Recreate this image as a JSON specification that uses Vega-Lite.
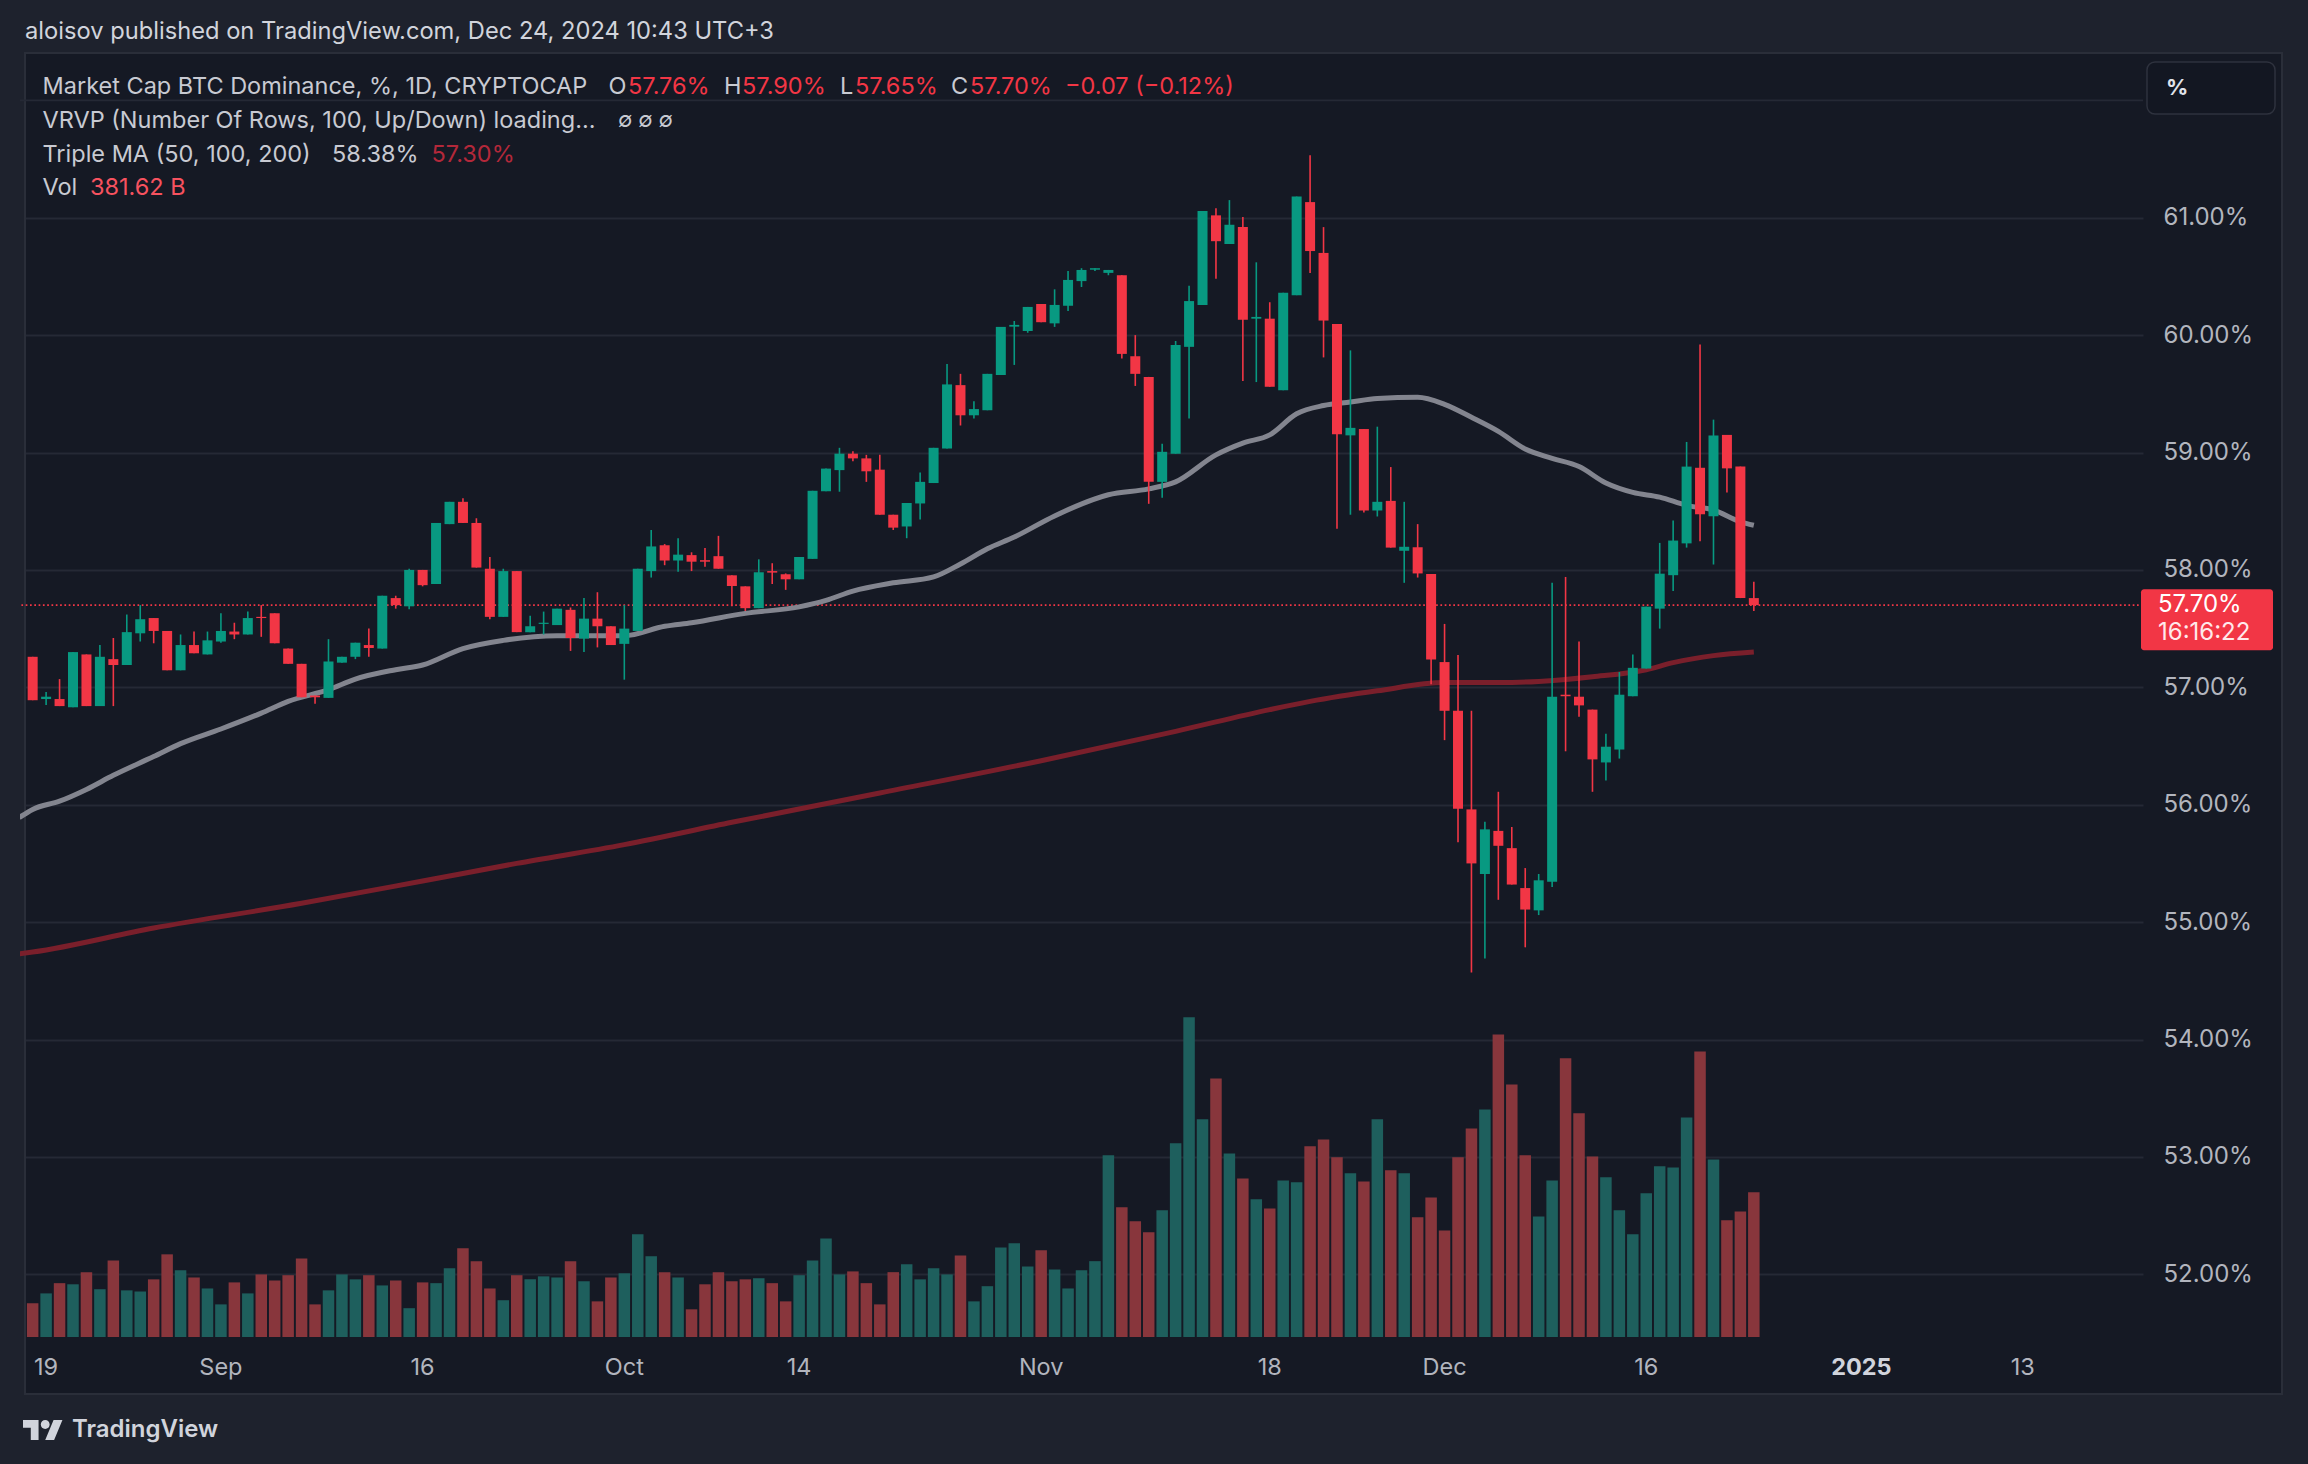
{
  "$schema": "https://vega.github.io/schema/vega-lite/v6.json",
  "width": 2123,
  "height": 1284,
  "autosize": "none",
  "padding": {"left": 20, "top": 53, "right": 165, "bottom": 127},
  "background": "#151924",
  "config": {
    "view": {"stroke": null},
    "font": "Inter",
    "text": {"font": "Inter"}
  },
  "datasets": {
    "candles": [
      {"date":"2024-08-18","open":57.26,"high":57.26,"low":56.89,"close":56.89,"volume":89},
      {"date":"2024-08-19","open":56.9,"high":56.96,"low":56.85,"close":56.92,"volume":115},
      {"date":"2024-08-20","open":56.9,"high":57.07,"low":56.84,"close":56.84,"volume":142},
      {"date":"2024-08-21","open":56.83,"high":57.3,"low":56.83,"close":57.3,"volume":139},
      {"date":"2024-08-22","open":57.28,"high":57.28,"low":56.84,"close":56.84,"volume":171},
      {"date":"2024-08-23","open":56.84,"high":57.36,"low":56.84,"close":57.26,"volume":126},
      {"date":"2024-08-24","open":57.24,"high":57.42,"low":56.84,"close":57.19,"volume":202},
      {"date":"2024-08-25","open":57.19,"high":57.62,"low":57.19,"close":57.47,"volume":123},
      {"date":"2024-08-26","open":57.46,"high":57.7,"low":57.39,"close":57.58,"volume":120},
      {"date":"2024-08-27","open":57.59,"high":57.59,"low":57.375,"close":57.48,"volume":152},
      {"date":"2024-08-28","open":57.48,"high":57.48,"low":57.145,"close":57.145,"volume":218},
      {"date":"2024-08-29","open":57.145,"high":57.45,"low":57.145,"close":57.36,"volume":176},
      {"date":"2024-08-30","open":57.36,"high":57.475,"low":57.29,"close":57.29,"volume":157},
      {"date":"2024-08-31","open":57.28,"high":57.475,"low":57.28,"close":57.4,"volume":128},
      {"date":"2024-09-01","open":57.39,"high":57.63,"low":57.38,"close":57.48,"volume":86},
      {"date":"2024-09-02","open":57.475,"high":57.55,"low":57.41,"close":57.45,"volume":144},
      {"date":"2024-09-03","open":57.45,"high":57.645,"low":57.45,"close":57.59,"volume":115},
      {"date":"2024-09-04","open":57.6,"high":57.7,"low":57.43,"close":57.59,"volume":165},
      {"date":"2024-09-05","open":57.63,"high":57.63,"low":57.375,"close":57.375,"volume":149},
      {"date":"2024-09-06","open":57.33,"high":57.33,"low":57.2,"close":57.2,"volume":163},
      {"date":"2024-09-07","open":57.2,"high":57.2,"low":56.915,"close":56.915,"volume":207},
      {"date":"2024-09-08","open":56.93,"high":56.93,"low":56.86,"close":56.915,"volume":86},
      {"date":"2024-09-09","open":56.91,"high":57.41,"low":56.91,"close":57.22,"volume":123},
      {"date":"2024-09-10","open":57.21,"high":57.26,"low":57.21,"close":57.26,"volume":165},
      {"date":"2024-09-11","open":57.26,"high":57.38,"low":57.24,"close":57.38,"volume":152},
      {"date":"2024-09-12","open":57.36,"high":57.5,"low":57.26,"close":57.335,"volume":163},
      {"date":"2024-09-13","open":57.33,"high":57.78,"low":57.33,"close":57.78,"volume":136},
      {"date":"2024-09-14","open":57.76,"high":57.78,"low":57.67,"close":57.7,"volume":149},
      {"date":"2024-09-15","open":57.69,"high":58.01,"low":57.665,"close":58.0,"volume":76},
      {"date":"2024-09-16","open":58.0,"high":58.0,"low":57.86,"close":57.87,"volume":144},
      {"date":"2024-09-17","open":57.88,"high":58.4,"low":57.88,"close":58.4,"volume":142},
      {"date":"2024-09-18","open":58.39,"high":58.58,"low":58.39,"close":58.58,"volume":181},
      {"date":"2024-09-19","open":58.58,"high":58.61,"low":58.4,"close":58.4,"volume":234},
      {"date":"2024-09-20","open":58.4,"high":58.44,"low":58.02,"close":58.02,"volume":200},
      {"date":"2024-09-21","open":58.01,"high":58.11,"low":57.58,"close":57.6,"volume":128},
      {"date":"2024-09-22","open":57.6,"high":58.01,"low":57.6,"close":57.99,"volume":97},
      {"date":"2024-09-23","open":57.99,"high":57.99,"low":57.47,"close":57.47,"volume":163},
      {"date":"2024-09-24","open":57.47,"high":57.61,"low":57.47,"close":57.52,"volume":152},
      {"date":"2024-09-25","open":57.54,"high":57.645,"low":57.45,"close":57.55,"volume":160},
      {"date":"2024-09-26","open":57.53,"high":57.67,"low":57.53,"close":57.67,"volume":157},
      {"date":"2024-09-27","open":57.66,"high":57.68,"low":57.31,"close":57.42,"volume":200},
      {"date":"2024-09-28","open":57.415,"high":57.76,"low":57.3,"close":57.585,"volume":147},
      {"date":"2024-09-29","open":57.585,"high":57.81,"low":57.34,"close":57.52,"volume":94},
      {"date":"2024-09-30","open":57.52,"high":57.52,"low":57.36,"close":57.36,"volume":157},
      {"date":"2024-10-01","open":57.37,"high":57.7,"low":57.065,"close":57.5,"volume":168},
      {"date":"2024-10-02","open":57.48,"high":58.01,"low":57.48,"close":58.01,"volume":271},
      {"date":"2024-10-03","open":57.99,"high":58.34,"low":57.935,"close":58.2,"volume":213},
      {"date":"2024-10-04","open":58.21,"high":58.22,"low":58.04,"close":58.08,"volume":171},
      {"date":"2024-10-05","open":58.08,"high":58.27,"low":57.985,"close":58.13,"volume":157},
      {"date":"2024-10-06","open":58.126,"high":58.15,"low":57.99,"close":58.07,"volume":73},
      {"date":"2024-10-07","open":58.083,"high":58.186,"low":58.026,"close":58.07,"volume":139},
      {"date":"2024-10-08","open":58.117,"high":58.29,"low":58.01,"close":58.01,"volume":171},
      {"date":"2024-10-09","open":57.954,"high":57.954,"low":57.69,"close":57.863,"volume":147},
      {"date":"2024-10-10","open":57.86,"high":57.86,"low":57.65,"close":57.674,"volume":152},
      {"date":"2024-10-11","open":57.674,"high":58.09,"low":57.674,"close":57.98,"volume":155},
      {"date":"2024-10-12","open":57.99,"high":58.057,"low":57.88,"close":57.977,"volume":142},
      {"date":"2024-10-13","open":57.963,"high":57.97,"low":57.83,"close":57.92,"volume":94},
      {"date":"2024-10-14","open":57.92,"high":58.11,"low":57.92,"close":58.11,"volume":163},
      {"date":"2024-10-15","open":58.094,"high":58.674,"low":58.094,"close":58.674,"volume":202},
      {"date":"2024-10-16","open":58.67,"high":58.863,"low":58.67,"close":58.863,"volume":260},
      {"date":"2024-10-17","open":58.85,"high":59.04,"low":58.666,"close":58.99,"volume":165},
      {"date":"2024-10-18","open":58.99,"high":59.01,"low":58.926,"close":58.95,"volume":173},
      {"date":"2024-10-19","open":58.95,"high":58.98,"low":58.75,"close":58.84,"volume":142},
      {"date":"2024-10-20","open":58.854,"high":58.98,"low":58.47,"close":58.47,"volume":86},
      {"date":"2024-10-21","open":58.47,"high":58.47,"low":58.34,"close":58.36,"volume":171},
      {"date":"2024-10-22","open":58.37,"high":58.57,"low":58.27,"close":58.57,"volume":192},
      {"date":"2024-10-23","open":58.566,"high":58.83,"low":58.43,"close":58.75,"volume":152},
      {"date":"2024-10-24","open":58.74,"high":59.04,"low":58.74,"close":59.04,"volume":181},
      {"date":"2024-10-25","open":59.034,"high":59.754,"low":59.034,"close":59.58,"volume":165},
      {"date":"2024-10-26","open":59.574,"high":59.67,"low":59.23,"close":59.317,"volume":215},
      {"date":"2024-10-27","open":59.317,"high":59.437,"low":59.29,"close":59.37,"volume":94},
      {"date":"2024-10-28","open":59.36,"high":59.67,"low":59.36,"close":59.67,"volume":134},
      {"date":"2024-10-29","open":59.66,"high":60.07,"low":59.66,"close":60.07,"volume":236},
      {"date":"2024-10-30","open":60.072,"high":60.12,"low":59.746,"close":60.087,"volume":247},
      {"date":"2024-10-31","open":60.035,"high":60.24,"low":60.02,"close":60.24,"volume":186},
      {"date":"2024-11-01","open":60.265,"high":60.265,"low":60.11,"close":60.11,"volume":229},
      {"date":"2024-11-02","open":60.1,"high":60.39,"low":60.07,"close":60.257,"volume":178},
      {"date":"2024-11-03","open":60.25,"high":60.546,"low":60.206,"close":60.47,"volume":128},
      {"date":"2024-11-04","open":60.46,"high":60.57,"low":60.41,"close":60.555,"volume":176},
      {"date":"2024-11-05","open":60.557,"high":60.57,"low":60.546,"close":60.57,"volume":200},
      {"date":"2024-11-06","open":60.53,"high":60.555,"low":60.51,"close":60.555,"volume":479},
      {"date":"2024-11-07","open":60.51,"high":60.51,"low":59.8,"close":59.84,"volume":342},
      {"date":"2024-11-08","open":59.82,"high":60.0,"low":59.567,"close":59.67,"volume":305},
      {"date":"2024-11-09","open":59.644,"high":59.644,"low":58.563,"close":58.75,"volume":276},
      {"date":"2024-11-10","open":58.75,"high":59.074,"low":58.614,"close":59.006,"volume":334},
      {"date":"2024-11-11","open":58.99,"high":59.95,"low":58.99,"close":59.916,"volume":511},
      {"date":"2024-11-12","open":59.9,"high":60.42,"low":59.29,"close":60.29,"volume":843},
      {"date":"2024-11-13","open":60.257,"high":61.057,"low":60.257,"close":61.057,"volume":574},
      {"date":"2024-11-14","open":61.02,"high":61.08,"low":60.48,"close":60.8,"volume":682},
      {"date":"2024-11-15","open":60.776,"high":61.15,"low":60.776,"close":60.94,"volume":484},
      {"date":"2024-11-16","open":60.92,"high":61.006,"low":59.61,"close":60.13,"volume":418},
      {"date":"2024-11-17","open":60.14,"high":60.62,"low":59.6,"close":60.155,"volume":363},
      {"date":"2024-11-18","open":60.14,"high":60.28,"low":59.56,"close":59.56,"volume":339},
      {"date":"2024-11-19","open":59.53,"high":60.36,"low":59.53,"close":60.36,"volume":413},
      {"date":"2024-11-20","open":60.34,"high":61.18,"low":60.34,"close":61.18,"volume":408},
      {"date":"2024-11-21","open":61.133,"high":61.533,"low":60.53,"close":60.716,"volume":503},
      {"date":"2024-11-22","open":60.7,"high":60.92,"low":59.81,"close":60.124,"volume":521},
      {"date":"2024-11-23","open":60.094,"high":60.094,"low":58.35,"close":59.155,"volume":474},
      {"date":"2024-11-24","open":59.146,"high":59.87,"low":58.47,"close":59.21,"volume":432},
      {"date":"2024-11-25","open":59.2,"high":59.2,"low":58.49,"close":58.506,"volume":410},
      {"date":"2024-11-26","open":58.506,"high":59.22,"low":58.455,"close":58.58,"volume":574},
      {"date":"2024-11-27","open":58.588,"high":58.876,"low":58.19,"close":58.19,"volume":440},
      {"date":"2024-11-28","open":58.163,"high":58.58,"low":57.89,"close":58.197,"volume":432},
      {"date":"2024-11-29","open":58.193,"high":58.39,"low":57.935,"close":57.97,"volume":316},
      {"date":"2024-11-30","open":57.966,"high":57.966,"low":57.026,"close":57.236,"volume":368},
      {"date":"2024-12-01","open":57.215,"high":57.54,"low":56.55,"close":56.8,"volume":281},
      {"date":"2024-12-02","open":56.8,"high":57.275,"low":55.68,"close":55.966,"volume":474},
      {"date":"2024-12-03","open":55.96,"high":56.8,"low":54.57,"close":55.5,"volume":550},
      {"date":"2024-12-04","open":55.41,"high":55.854,"low":54.69,"close":55.79,"volume":600},
      {"date":"2024-12-05","open":55.777,"high":56.11,"low":55.19,"close":55.65,"volume":798},
      {"date":"2024-12-06","open":55.63,"high":55.81,"low":55.32,"close":55.32,"volume":666},
      {"date":"2024-12-07","open":55.29,"high":55.46,"low":54.785,"close":55.107,"volume":479},
      {"date":"2024-12-08","open":55.1,"high":55.41,"low":55.06,"close":55.356,"volume":318},
      {"date":"2024-12-09","open":55.343,"high":57.89,"low":55.3,"close":56.92,"volume":413},
      {"date":"2024-12-10","open":56.937,"high":57.94,"low":56.455,"close":56.924,"volume":735},
      {"date":"2024-12-11","open":56.92,"high":57.39,"low":56.75,"close":56.846,"volume":590},
      {"date":"2024-12-12","open":56.81,"high":56.81,"low":56.11,"close":56.386,"volume":476},
      {"date":"2024-12-13","open":56.36,"high":56.605,"low":56.207,"close":56.494,"volume":421},
      {"date":"2024-12-14","open":56.47,"high":57.13,"low":56.393,"close":56.937,"volume":334},
      {"date":"2024-12-15","open":56.924,"high":57.28,"low":56.924,"close":57.166,"volume":271},
      {"date":"2024-12-16","open":57.16,"high":57.687,"low":57.16,"close":57.687,"volume":379},
      {"date":"2024-12-17","open":57.67,"high":58.23,"low":57.5,"close":57.968,"volume":450},
      {"date":"2024-12-18","open":57.955,"high":58.42,"low":57.82,"close":58.25,"volume":447},
      {"date":"2024-12-19","open":58.226,"high":59.09,"low":58.19,"close":58.88,"volume":579},
      {"date":"2024-12-20","open":58.87,"high":59.92,"low":58.245,"close":58.474,"volume":753},
      {"date":"2024-12-21","open":58.457,"high":59.28,"low":58.046,"close":59.145,"volume":468},
      {"date":"2024-12-22","open":59.15,"high":59.15,"low":58.66,"close":58.865,"volume":308},
      {"date":"2024-12-23","open":58.88,"high":58.88,"low":57.76,"close":57.76,"volume":331},
      {"date":"2024-12-24","open":57.76,"high":57.9,"low":57.65,"close":57.7,"volume":381.62}
    ],
    "ma100": [
      {"date":"2024-08-17","v":55.89},
      {"date":"2024-08-18","v":55.96},
      {"date":"2024-08-20","v":56.03},
      {"date":"2024-08-22","v":56.13},
      {"date":"2024-08-24","v":56.25},
      {"date":"2024-08-27","v":56.41},
      {"date":"2024-08-29","v":56.52},
      {"date":"2024-09-01","v":56.645},
      {"date":"2024-09-04","v":56.78},
      {"date":"2024-09-06","v":56.88},
      {"date":"2024-09-09","v":56.98},
      {"date":"2024-09-11","v":57.07},
      {"date":"2024-09-14","v":57.15},
      {"date":"2024-09-16","v":57.19},
      {"date":"2024-09-19","v":57.33},
      {"date":"2024-09-22","v":57.4},
      {"date":"2024-09-26","v":57.44},
      {"date":"2024-10-01","v":57.44},
      {"date":"2024-10-04","v":57.52},
      {"date":"2024-10-06","v":57.55},
      {"date":"2024-10-10","v":57.63},
      {"date":"2024-10-14","v":57.685},
      {"date":"2024-10-16","v":57.74},
      {"date":"2024-10-18","v":57.82},
      {"date":"2024-10-21","v":57.89},
      {"date":"2024-10-24","v":57.94},
      {"date":"2024-10-26","v":58.05},
      {"date":"2024-10-28","v":58.18},
      {"date":"2024-10-30","v":58.28},
      {"date":"2024-11-02","v":58.46},
      {"date":"2024-11-06","v":58.64},
      {"date":"2024-11-09","v":58.69},
      {"date":"2024-11-11","v":58.75},
      {"date":"2024-11-14","v":58.98},
      {"date":"2024-11-16","v":59.08},
      {"date":"2024-11-18","v":59.15},
      {"date":"2024-11-20","v":59.33},
      {"date":"2024-11-22","v":59.4},
      {"date":"2024-11-24","v":59.43},
      {"date":"2024-11-26","v":59.46},
      {"date":"2024-11-29","v":59.47},
      {"date":"2024-12-01","v":59.41},
      {"date":"2024-12-03","v":59.3},
      {"date":"2024-12-05","v":59.18},
      {"date":"2024-12-07","v":59.03},
      {"date":"2024-12-09","v":58.95},
      {"date":"2024-12-11","v":58.88},
      {"date":"2024-12-13","v":58.74},
      {"date":"2024-12-15","v":58.66},
      {"date":"2024-12-17","v":58.62},
      {"date":"2024-12-19","v":58.55},
      {"date":"2024-12-21","v":58.51},
      {"date":"2024-12-23","v":58.41},
      {"date":"2024-12-24","v":58.38}
    ],
    "ma200": [
      {"date":"2024-08-17","v":54.73},
      {"date":"2024-08-18","v":54.745},
      {"date":"2024-08-27","v":54.95},
      {"date":"2024-09-07","v":55.16},
      {"date":"2024-09-16","v":55.35},
      {"date":"2024-09-23","v":55.5},
      {"date":"2024-10-01","v":55.66},
      {"date":"2024-10-09","v":55.85},
      {"date":"2024-10-20","v":56.1},
      {"date":"2024-11-01","v":56.375},
      {"date":"2024-11-11","v":56.625},
      {"date":"2024-11-18","v":56.81},
      {"date":"2024-11-21","v":56.88},
      {"date":"2024-11-26","v":56.97},
      {"date":"2024-12-01","v":57.04},
      {"date":"2024-12-05","v":57.04},
      {"date":"2024-12-08","v":57.05},
      {"date":"2024-12-12","v":57.09},
      {"date":"2024-12-16","v":57.15},
      {"date":"2024-12-18","v":57.21},
      {"date":"2024-12-21","v":57.27},
      {"date":"2024-12-24","v":57.3}
    ],
    "timeLabels": [
      {"date":"2024-08-19","label":"19"},
      {"date":"2024-09-01","label":"Sep"},
      {"date":"2024-09-16","label":"16"},
      {"date":"2024-10-01","label":"Oct"},
      {"date":"2024-10-14","label":"14"},
      {"date":"2024-11-01","label":"Nov"},
      {"date":"2024-11-18","label":"18"},
      {"date":"2024-12-01","label":"Dec"},
      {"date":"2024-12-16","label":"16"},
      {"date":"2025-01-13","label":"13"}
    ],
    "one": [{}]
  },
  "data": {"name": "candles"},
  "resolve": {"scale": {"y": "independent"}},
  "layer": [
    {
      "data": {"name": "one"},
      "mark": {"type": "rect", "color": "#1E222D", "xOffset": -40, "x2Offset": 300, "yOffset": -100, "y2Offset": 0},
      "encoding": {
        "x": {"datum": 1723889952000, "type": "temporal", "scale": {"domain": [1723889952000, 1737466848000], "nice": false}, "axis": null},
        "x2": {"datum": 1737466848000},
        "y": {"datum": 62.403, "type": "quantitative", "scale": {"domain": [51.466, 62.403], "zero": false, "nice": false}, "axis": null},
        "y2": {"datum": 62.403}
      }
    },
    {
      "data": {"name": "one"},
      "mark": {"type": "rect", "color": "#1E222D", "xOffset": -40, "x2Offset": 300, "yOffset": 57, "y2Offset": 300},
      "encoding": {
        "x": {"datum": 1723889952000, "type": "temporal", "scale": {"domain": [1723889952000, 1737466848000], "nice": false}, "axis": null},
        "x2": {"datum": 1737466848000},
        "y": {"datum": 51.466, "type": "quantitative", "scale": {"domain": [51.466, 62.403], "zero": false, "nice": false}, "axis": null},
        "y2": {"datum": 51.466}
      }
    },
    {
      "data": {"name": "one"},
      "mark": {"type": "rect", "color": "#1E222D", "xOffset": -40, "x2Offset": 0, "yOffset": -100, "y2Offset": 300},
      "encoding": {
        "x": {"datum": 1723889952000, "type": "temporal", "scale": {"domain": [1723889952000, 1737466848000], "nice": false}, "axis": null},
        "x2": {"datum": 1723889952000},
        "y": {"datum": 62.403, "type": "quantitative", "scale": {"domain": [51.466, 62.403], "zero": false, "nice": false}, "axis": null},
        "y2": {"datum": 51.466}
      }
    },
    {
      "data": {"name": "one"},
      "mark": {"type": "rect", "color": "#1E222D", "xOffset": 144, "x2Offset": 300, "yOffset": -100, "y2Offset": 300},
      "encoding": {
        "x": {"datum": 1737466848000, "type": "temporal", "scale": {"domain": [1723889952000, 1737466848000], "nice": false}, "axis": null},
        "x2": {"datum": 1737466848000},
        "y": {"datum": 62.403, "type": "quantitative", "scale": {"domain": [51.466, 62.403], "zero": false, "nice": false}, "axis": null},
        "y2": {"datum": 51.466}
      }
    },
    {
      "data": {"name": "one"},
      "mark": {"type": "rect", "filled": false, "stroke": "#2A2E39", "strokeWidth": 2, "x2Offset": 144, "y2Offset": 57},
      "encoding": {
        "x": {"datum": 1723889952000, "type": "temporal", "scale": {"domain": [1723889952000, 1737466848000], "nice": false}, "axis": null},
        "x2": {"datum": 1737466848000},
        "y": {"datum": 62.403, "type": "quantitative", "scale": {"domain": [51.466, 62.403], "zero": false, "nice": false}, "axis": null},
        "y2": {"datum": 51.466}
      }
    },
    {
      "data": {"name": "one"},
      "mark": {"type": "rule", "color": "#252935", "strokeWidth": 1.8},
      "encoding": {
        "y": {"datum": 62, "type": "quantitative", "scale": {"domain": [51.466, 62.403], "zero": false, "nice": false}, "axis": null}
      }
    },
    {
      "mark": {"type": "bar", "size": 11.5},
      "encoding": {
        "x": {"field": "date", "type": "temporal", "scale": {"domain": [1723889952000, 1737466848000], "nice": false}, "axis": null},
        "y": {"field": "volume", "type": "quantitative", "scale": {"domain": [0, 3386], "nice": false}, "axis": null},
        "color": {"condition": {"test": "datum.close >= datum.open", "value": "#1E5F5D"}, "value": "#88363C"}
      }
    },
    {
      "data": {"name": "one"},
      "mark": {"type": "rule", "color": "#F23645", "strokeWidth": 1.7, "strokeDash": [1.7, 2.6]},
      "encoding": {
        "y": {"datum": 57.7, "type": "quantitative", "scale": {"domain": [51.466, 62.403], "zero": false, "nice": false}, "axis": null}
      }
    },
    {
      "data": {"name": "ma100"},
      "mark": {"type": "line", "color": "#83858F", "strokeWidth": 5, "interpolate": "monotone", "clip": true},
      "encoding": {
        "x": {"field": "date", "type": "temporal", "scale": {"domain": [1723889952000, 1737466848000], "nice": false}, "axis": null},
        "y": {"field": "v", "type": "quantitative", "scale": {"domain": [51.466, 62.403], "zero": false, "nice": false}, "axis": null}
      }
    },
    {
      "data": {"name": "ma200"},
      "mark": {"type": "line", "color": "#7A1F2B", "strokeWidth": 5, "interpolate": "monotone", "clip": true},
      "encoding": {
        "x": {"field": "date", "type": "temporal", "scale": {"domain": [1723889952000, 1737466848000], "nice": false}, "axis": null},
        "y": {"field": "v", "type": "quantitative", "scale": {"domain": [51.466, 62.403], "zero": false, "nice": false}, "axis": null}
      }
    },
    {
      "mark": {"type": "rule", "strokeWidth": 1.6},
      "encoding": {
        "x": {
          "field": "date", "type": "temporal",
          "scale": {"domain": [1723889952000, 1737466848000], "nice": false},
          "axis": {
            "orient": "bottom",
            "title": null,
            "values": [
              {"year": 2024, "month": 8, "date": 19, "utc": true},
              {"year": 2024, "month": 9, "date": 1, "utc": true},
              {"year": 2024, "month": 9, "date": 16, "utc": true},
              {"year": 2024, "month": 10, "date": 1, "utc": true},
              {"year": 2024, "month": 10, "date": 14, "utc": true},
              {"year": 2024, "month": 11, "date": 1, "utc": true},
              {"year": 2024, "month": 11, "date": 18, "utc": true},
              {"year": 2024, "month": 12, "date": 1, "utc": true},
              {"year": 2024, "month": 12, "date": 16, "utc": true},
              {"year": 2025, "month": 1, "date": 1, "utc": true},
              {"year": 2025, "month": 1, "date": 13, "utc": true}
            ],
            "labels": false,
            "domain": false,
            "ticks": false,
            "grid": true,
            "gridColor": "#232732",
            "gridWidth": 1.5
          }
        },
        "y": {
          "field": "low", "type": "quantitative",
          "scale": {"domain": [51.466, 62.403], "zero": false, "nice": false},
          "axis": {
            "orient": "right",
            "title": null,
            "values": [52, 53, 54, 55, 56, 57, 58, 59, 60, 61],
            "labelExpr": "format(datum.value, '.2f') + '%'",
            "labelFont": "Inter",
            "labelFontSize": 24,
            "labelColor": "#B2B5BE",
            "labelPadding": 20,
            "labelOverlap": false,
            "labelFlush": false,
            "domain": false,
            "ticks": false,
            "tickSize": 0,
            "grid": true,
            "gridColor": "#252935",
            "gridWidth": 1.8
          }
        },
        "y2": {"field": "high"},
        "color": {"condition": {"test": "datum.close >= datum.open", "value": "#089981"}, "value": "#F23645"}
      }
    },
    {
      "mark": {"type": "bar", "size": 10},
      "encoding": {
        "x": {"field": "date", "type": "temporal", "scale": {"domain": [1723889952000, 1737466848000], "nice": false}, "axis": null},
        "y": {"field": "open", "type": "quantitative", "scale": {"domain": [51.466, 62.403], "zero": false, "nice": false}, "axis": null},
        "y2": {"field": "close"},
        "color": {"condition": {"test": "datum.close >= datum.open", "value": "#089981"}, "value": "#F23645"}
      }
    },
    {
      "data": {"name": "timeLabels"},
      "mark": {"type": "text", "align": "center", "baseline": "middle", "dy": 31, "fontSize": 23.5, "color": "#B2B5BE"},
      "encoding": {
        "x": {"field": "date", "type": "temporal", "scale": {"domain": [1723889952000, 1737466848000], "nice": false}, "axis": null},
        "y": {"datum": 51.466, "type": "quantitative", "scale": {"domain": [51.466, 62.403], "zero": false, "nice": false}, "axis": null},
        "text": {"field": "label", "type": "nominal"}
      }
    },
    {
      "data": {"name": "one"},
      "mark": {"type": "text", "text": "2025", "align": "center", "baseline": "middle", "dy": 31, "fontSize": 23.5, "fontWeight": "bold", "color": "#D1D4DC"},
      "encoding": {
        "x": {"datum": 1735689600000, "type": "temporal", "scale": {"domain": [1723889952000, 1737466848000], "nice": false}, "axis": null},
        "y": {"datum": 51.466, "type": "quantitative", "scale": {"domain": [51.466, 62.403], "zero": false, "nice": false}, "axis": null}
      }
    },
    {
      "data": {"name": "one"},
      "layer": [
        {"mark": {"type": "text", "text": "aloisov published on TradingView.com, Dec 24, 2024 10:43 UTC+3", "align": "left", "baseline": "alphabetic", "dx": 0, "dy": -13.7, "fontSize": 23.7, "color": "#D1D4DC"}},
        {"mark": {"type": "text", "text": "Market Cap BTC Dominance, %, 1D, CRYPTOCAP", "align": "left", "baseline": "middle", "dx": 17.5, "dy": 34, "fontSize": 23.5, "color": "#C8CAD2"}},
        {"mark": {"type": "text", "text": "O", "align": "left", "baseline": "middle", "dx": 583.5, "dy": 34, "fontSize": 23.5, "color": "#C8CAD2"}},
        {"mark": {"type": "text", "text": "57.76%", "align": "left", "baseline": "middle", "dx": 603, "dy": 34, "fontSize": 23.5, "color": "#F23645"}},
        {"mark": {"type": "text", "text": "H", "align": "left", "baseline": "middle", "dx": 699, "dy": 34, "fontSize": 23.5, "color": "#C8CAD2"}},
        {"mark": {"type": "text", "text": "57.90%", "align": "left", "baseline": "middle", "dx": 717, "dy": 34, "fontSize": 23.5, "color": "#F23645"}},
        {"mark": {"type": "text", "text": "L", "align": "left", "baseline": "middle", "dx": 815, "dy": 34, "fontSize": 23.5, "color": "#C8CAD2"}},
        {"mark": {"type": "text", "text": "57.65%", "align": "left", "baseline": "middle", "dx": 830, "dy": 34, "fontSize": 23.5, "color": "#F23645"}},
        {"mark": {"type": "text", "text": "C", "align": "left", "baseline": "middle", "dx": 926, "dy": 34, "fontSize": 23.5, "color": "#C8CAD2"}},
        {"mark": {"type": "text", "text": "57.70%", "align": "left", "baseline": "middle", "dx": 945, "dy": 34, "fontSize": 23.5, "color": "#F23645"}},
        {"mark": {"type": "text", "text": "−0.07 (−0.12%)", "align": "left", "baseline": "middle", "dx": 1040, "dy": 34, "fontSize": 23.5, "color": "#F23645"}},
        {"mark": {"type": "text", "text": "VRVP (Number Of Rows, 100, Up/Down) loading...", "align": "left", "baseline": "middle", "dx": 17.5, "dy": 68, "fontSize": 23.5, "color": "#C8CAD2"}},
        {"mark": {"type": "text", "text": "∅   ∅   ∅", "align": "left", "baseline": "middle", "dx": 593, "dy": 68, "fontSize": 21, "color": "#C8CAD2"}},
        {"mark": {"type": "text", "text": "Triple MA (50, 100, 200)", "align": "left", "baseline": "middle", "dx": 17.5, "dy": 102, "fontSize": 23.5, "color": "#C8CAD2"}},
        {"mark": {"type": "text", "text": "58.38%", "align": "left", "baseline": "middle", "dx": 307, "dy": 102, "fontSize": 23.5, "color": "#C8CAD2"}},
        {"mark": {"type": "text", "text": "57.30%", "align": "left", "baseline": "middle", "dx": 406.5, "dy": 102, "fontSize": 23.5, "color": "#B3283A"}},
        {"mark": {"type": "text", "text": "Vol", "align": "left", "baseline": "middle", "dx": 17.5, "dy": 135, "fontSize": 23.5, "color": "#C8CAD2"}},
        {"mark": {"type": "text", "text": "381.62 B", "align": "left", "baseline": "middle", "dx": 65, "dy": 135, "fontSize": 23.5, "color": "#F7525F"}}
      ],
      "encoding": {
        "x": {"datum": 1723889952000, "type": "temporal", "scale": {"domain": [1723889952000, 1737466848000], "nice": false}, "axis": null},
        "y": {"datum": 62.403, "type": "quantitative", "scale": {"domain": [51.466, 62.403], "zero": false, "nice": false}, "axis": null}
      }
    },
    {
      "data": {"name": "one"},
      "layer": [
        {"mark": {"type": "rect", "color": "#F23645", "cornerRadius": 3, "xOffset": 3, "x2Offset": 135, "yOffset": -16, "y2Offset": 45},
         "encoding": {"x2": {"datum": 1737466848000}, "y2": {"datum": 57.7}}},
        {"mark": {"type": "text", "text": "57.70%", "align": "left", "baseline": "middle", "dx": 20, "dy": 0, "fontSize": 24, "color": "#FFFFFF"}},
        {"mark": {"type": "text", "text": "16:16:22", "align": "left", "baseline": "middle", "dx": 20, "dy": 28, "fontSize": 24, "color": "#FFE9EB"}}
      ],
      "encoding": {
        "x": {"datum": 1737466848000, "type": "temporal", "scale": {"domain": [1723889952000, 1737466848000], "nice": false}, "axis": null},
        "y": {"datum": 57.7, "type": "quantitative", "scale": {"domain": [51.466, 62.403], "zero": false, "nice": false}, "axis": null}
      }
    },
    {
      "data": {"name": "one"},
      "layer": [
        {"mark": {"type": "rect", "fill": "#131722", "stroke": "#2E323E", "strokeWidth": 1.5, "cornerRadius": 8, "xOffset": 9, "x2Offset": 137, "yOffset": 9, "y2Offset": 61},
         "encoding": {"x2": {"datum": 1737466848000}, "y2": {"datum": 62.403}}},
        {"mark": {"type": "text", "text": "%", "align": "left", "baseline": "middle", "dx": 28, "dy": 35, "fontSize": 22, "fontWeight": "bold", "color": "#E0E3EB"}}
      ],
      "encoding": {
        "x": {"datum": 1737466848000, "type": "temporal", "scale": {"domain": [1723889952000, 1737466848000], "nice": false}, "axis": null},
        "y": {"datum": 62.403, "type": "quantitative", "scale": {"domain": [51.466, 62.403], "zero": false, "nice": false}, "axis": null}
      }
    },
    {
      "data": {"name": "one"},
      "layer": [
        {"mark": {"type": "point", "shape": "M-1,-0.5L-0.222,-0.5L-0.222,0.5L-0.611,0.5L-0.611,-0.111L-1,-0.111ZM0.111,0.5L0.528,-0.5L0.972,-0.5L0.556,0.5ZM-0.111,-0.278a0.222,0.222 0 1,0 0.444,0a0.222,0.222 0 1,0 -0.444,0Z", "filled": true, "size": 1600, "opacity": 1, "color": "#D1D4DC", "xOffset": 18, "yOffset": 93}},
        {"mark": {"type": "text", "text": "TradingView", "align": "left", "baseline": "middle", "dx": 47, "dy": 93, "fontSize": 24, "fontWeight": 600, "color": "#D1D4DC"}}
      ],
      "encoding": {
        "x": {"datum": 1723889952000, "type": "temporal", "scale": {"domain": [1723889952000, 1737466848000], "nice": false}, "axis": null},
        "y": {"datum": 51.466, "type": "quantitative", "scale": {"domain": [51.466, 62.403], "zero": false, "nice": false}, "axis": null}
      }
    }
  ]
}
